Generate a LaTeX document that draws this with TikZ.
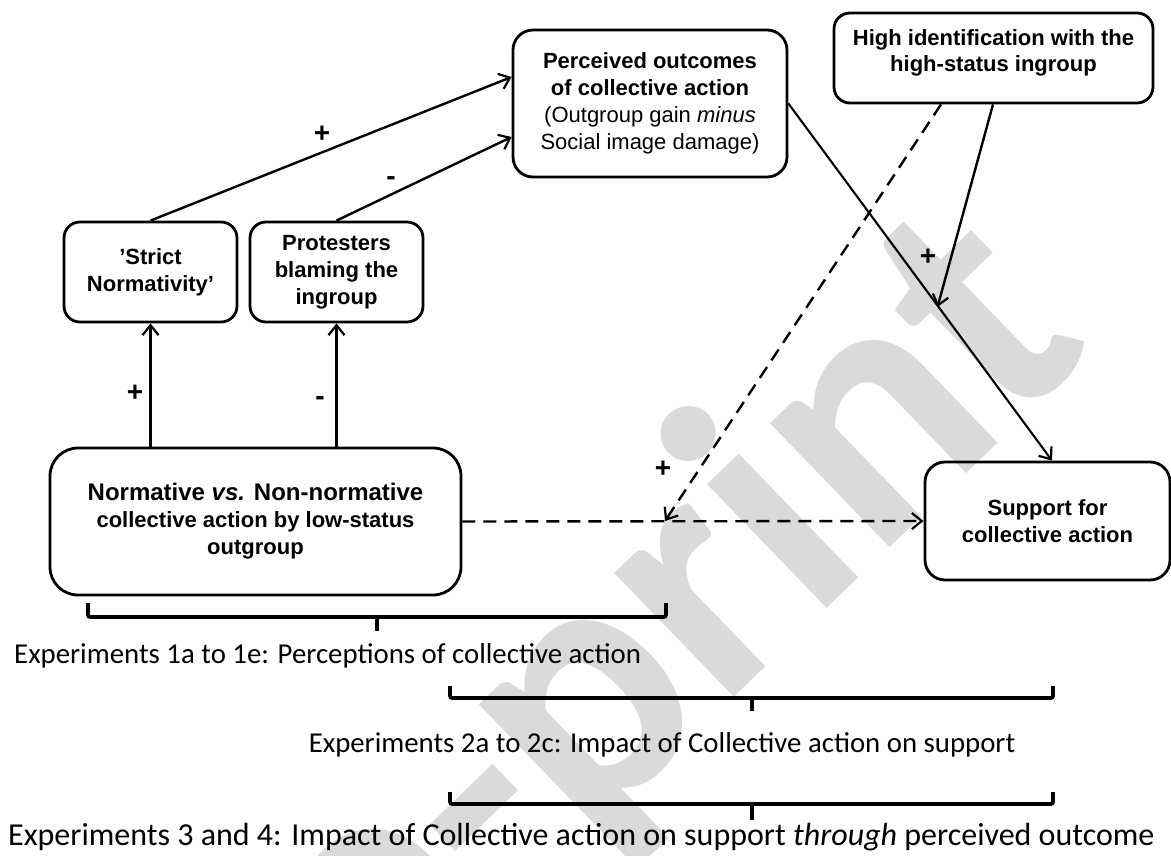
\documentclass[tikz,border=0pt]{standalone}
\usepackage{fontspec}
\setmainfont{Liberation Sans}
\newfontfamily\calib{Carlito}
\usetikzlibrary{arrows.meta}
\definecolor{wmgray}{RGB}{218,218,218}
\begin{document}
\begin{tikzpicture}[x=1pt,y=-1pt,
  box/.style={draw, line width=2.8pt, rounded corners=16pt, align=center,
    font=\bfseries\fontsize{22}{27}\selectfont, inner sep=0pt},
  btext/.style={align=center, font=\bfseries\fontsize{22}{26}\selectfont, inner sep=0pt},
  arr/.style={line width=2.4pt, -{Straight Barb[length=10pt,width=16pt,line width=2.2pt]}},
  darr/.style={arr, dash pattern=on 13pt off 8pt},
  lbl/.style={font=\bfseries\fontsize{28}{28}\selectfont, inner sep=0pt},
  brace/.style={line width=3.6pt, rounded corners=2pt},
  btxt/.style={font=\calib\fontsize{28.8}{30}\selectfont, inner sep=0pt}]
\useasboundingbox (0,0) rectangle (1171,856);
% watermark
\begin{scope}
\clip (0,0) rectangle (1171,856);
\node[font=\calib\bfseries\fontsize{355}{355}\selectfont, text=wmgray, rotate=44, anchor=base west, inner sep=0pt] (wm) at (153,1259) {Pre-print};
\end{scope}
% boxes
\node[box, minimum width=274pt, minimum height=147pt, rounded corners=20pt] (perc) at (650,103.5)
  {Perceived outcomes\\of collective action\\{\mdseries (Outgroup gain \textit{minus}}\\{\mdseries Social image damage)}};
\node[box, minimum width=319pt, minimum height=90pt] (high) at (993.5,58) {};
\node[btext] (hightxt) at (993.5,53) {High identification with the\\high-status ingroup};
\node[box, minimum width=173pt, minimum height=100pt] (strict) at (150.5,272)
  {’Strict\\Normativity’};
\node[box, minimum width=173pt, minimum height=100pt] (prot) at (336.5,272)
  {Protesters\\blaming the\\ingroup};
\node[box, minimum width=411pt, minimum height=147pt, rounded corners=28pt] (norm) at (255.5,521.5)
  {{\fontsize{24}{28}\selectfont Normative \textit{vs.} Non-normative}\\collective action by low-status\\outgroup};
\node[box, minimum width=245pt, minimum height=118pt, rounded corners=20pt] (sup) at (1047.5,521)
  {Support for\\collective action};
% connectors
\draw[arr] (norm.north -| strict.south) -- (strict.south);
\draw[arr] (norm.north -| prot.south) -- (prot.south);
\draw[arr] (strict.north) -- ([yshift=26.5pt]perc.west);
\draw[arr] (prot.north) -- ([yshift=-33.5pt]perc.west);
\draw[arr, line width=2.1pt] (perc.east) -- ([xshift=4.5pt]sup.north);
\coordinate (mod) at (937.5,307);
\draw[arr] ([xshift=-0.5pt]high.south) -- (mod);
\coordinate (mid) at (665,521);
\draw[darr] ([xshift=-52.5pt]high.south) -- (mid);
\draw[darr] (norm.east) -- (sup.west);
% labels
\node[lbl] (p1) at (135,393) {+};
\node[lbl] (m1) at (320,401) {-};
\node[lbl] (p2) at (322,134) {+};
\node[lbl] (m2) at (391,181) {-};
\node[lbl] (p3) at (928,257) {+};
\node[lbl] (p4) at (663,469) {+};
% braces
\draw[brace] (88,603) -- (88,617) -- (666,617) -- (666,603);
\draw[brace] (377,617) -- (377,631);
\draw[brace] (450,686) -- (450,698) -- (1053,698) -- (1053,686);
\draw[brace] (752,698) -- (752,711);
\draw[brace] (450,792) -- (450,804) -- (1053,804) -- (1053,792);
\draw[brace] (752,804) -- (752,820);
% texts
\node[btxt, anchor=base west] (t1) at (14,663) {Experiments 1a to 1e: Perceptions of collective action};
\node[btxt, anchor=base] (t2) at (662,752) {Experiments 2a to 2c: Impact of Collective action on support};
\node[btxt, font=\calib\fontsize{32}{34}\selectfont, anchor=base west] (t3) at (8,845) {Experiments 3 and 4: Impact of Collective action on support \textit{through} perceived outcome};
\end{tikzpicture}
\end{document}
